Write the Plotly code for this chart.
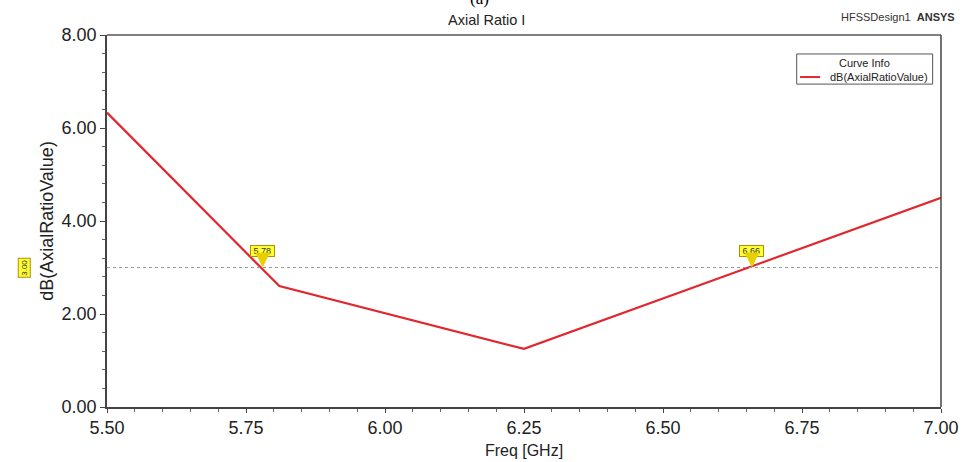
import plotly.graph_objects as go

freq = [5.50, 5.81, 6.25, 7.00]
ar_db = [6.33, 2.60, 1.25, 4.50]
x_ticks = [5.50, 5.75, 6.00, 6.25, 6.50, 6.75, 7.00]
y_ticks = [0, 2, 4, 6, 8]
ref_level = 3.00
marker_x = [5.78, 6.66]
marker_lbl = ["5.78", "6.66"]
series_name = "dB(AxialRatioValue)"

FONT = "Liberation Sans, Arial, sans-serif"
RED = "#e0282e"
YEL = "#ffff33"
YEL_EDGE = "#b09000"

fig = go.Figure()
fig.add_trace(go.Scatter(x=freq, y=ar_db, mode="lines", name=series_name,
                         line=dict(color=RED, width=2.2), showlegend=False, hoverinfo="skip"))

fig.add_hline(y=ref_level, line=dict(color="#9a9a9a", width=1, dash="dot"))

for mx, ml in zip(marker_x, marker_lbl):
    fig.add_annotation(x=mx, y=ref_level, text="&nbsp;" + ml + "&nbsp;", showarrow=True, ax=0, ay=-17,
                       arrowhead=2, arrowsize=2.1, arrowwidth=1.4, arrowcolor="#e8d000",
                       font=dict(size=9, color="#333", family=FONT),
                       bgcolor=YEL, bordercolor=YEL_EDGE, borderwidth=1, borderpad=0)

fig.add_annotation(xref="paper", x=-0.107, y=ref_level, text=f"{ref_level:.2f}", textangle=-90,
                   showarrow=False, font=dict(size=8, color="#333", family=FONT),
                   bgcolor=YEL, bordercolor=YEL_EDGE, borderwidth=1, borderpad=1)

fig.add_annotation(xref="paper", yref="paper", x=0.447, y=1.099, yanchor="middle", xanchor="center",
                   text="(a)", showarrow=False,
                   font=dict(size=17, color="#000", family="Liberation Serif, Times New Roman, serif"))
fig.add_annotation(xref="paper", yref="paper", x=0.455, y=1.040, yanchor="middle", xanchor="center",
                   text="Axial Ratio I", showarrow=False,
                   font=dict(size=14.5, color="#222", family=FONT))
fig.add_annotation(xref="paper", yref="paper", x=1.0195, y=1.048, xanchor="right", yanchor="middle",
                   text="HFSSDesign1  <b>ANSYS</b>", showarrow=False,
                   font=dict(size=11, color="#333", family=FONT))

# curve-info box (legend)
lx0, lx1, ly0, ly1 = 0.827, 0.990, 0.868, 0.949
fig.add_shape(type="rect", xref="paper", yref="paper", x0=lx0, x1=lx1, y0=ly0, y1=ly1,
              line=dict(color="#555", width=1), fillcolor="white")
fig.add_annotation(xref="paper", yref="paper", x=(lx0 + lx1) / 2, y=0.926, yanchor="middle",
                   xanchor="center", text="Curve Info", showarrow=False,
                   font=dict(size=11, color="#222", family=FONT))
fig.add_shape(type="line", xref="paper", yref="paper", x0=0.831, x1=0.855, y0=0.887, y1=0.887,
              line=dict(color=RED, width=2))
fig.add_annotation(xref="paper", yref="paper", x=0.987, y=0.887, xanchor="right", yanchor="middle",
                   text=series_name, showarrow=False,
                   font=dict(size=11, color="#222", family=FONT))

fig.update_layout(
    width=964, height=462,
    margin=dict(l=107, r=23, t=35, b=55),
    paper_bgcolor="white", plot_bgcolor="white",
    font=dict(family=FONT, color="#111"),
    showlegend=False,
    xaxis=dict(range=[5.5, 7.0], tickvals=x_ticks, ticktext=[f"{v:.2f}" for v in x_ticks],
               automargin=False,
               showgrid=False, zeroline=False, showline=True, linecolor="#444", linewidth=1.5,
               ticks="outside", ticklen=4, tickcolor="#444",
               minor=dict(dtick=0.05, ticks="outside", ticklen=3, tickcolor="#666"),
               tickfont=dict(size=18, family=FONT, color="#222"),
               title=dict(text="Freq [GHz]", font=dict(size=16, family=FONT, color="#222"), standoff=7)),
    yaxis=dict(range=[0, 8], tickvals=y_ticks, ticktext=[f"{v:.2f}" for v in y_ticks],
               automargin=False,
               showgrid=False, zeroline=False, showline=True, linecolor="#444", linewidth=1.5,
               ticks="outside", ticklen=5, tickcolor="#444",
               minor=dict(dtick=0.4, ticks="outside", ticklen=3, tickcolor="#666"),
               tickfont=dict(size=18, family=FONT, color="#222"),
               title=dict(text="dB(AxialRatioValue)", font=dict(size=18, family=FONT, color="#222"), standoff=3)),
)

fig.add_shape(type="line", xref="paper", yref="paper", x0=0, x1=1, y0=1, y1=1,
              line=dict(color="#555", width=1.5))
fig.add_shape(type="line", xref="paper", yref="paper", x0=1, x1=1, y0=0, y1=1,
              line=dict(color="#444", width=1.5))

fig.write_html("out.html", config={"displayModeBar": False},
               post_script="document.body.style.margin='0';")
